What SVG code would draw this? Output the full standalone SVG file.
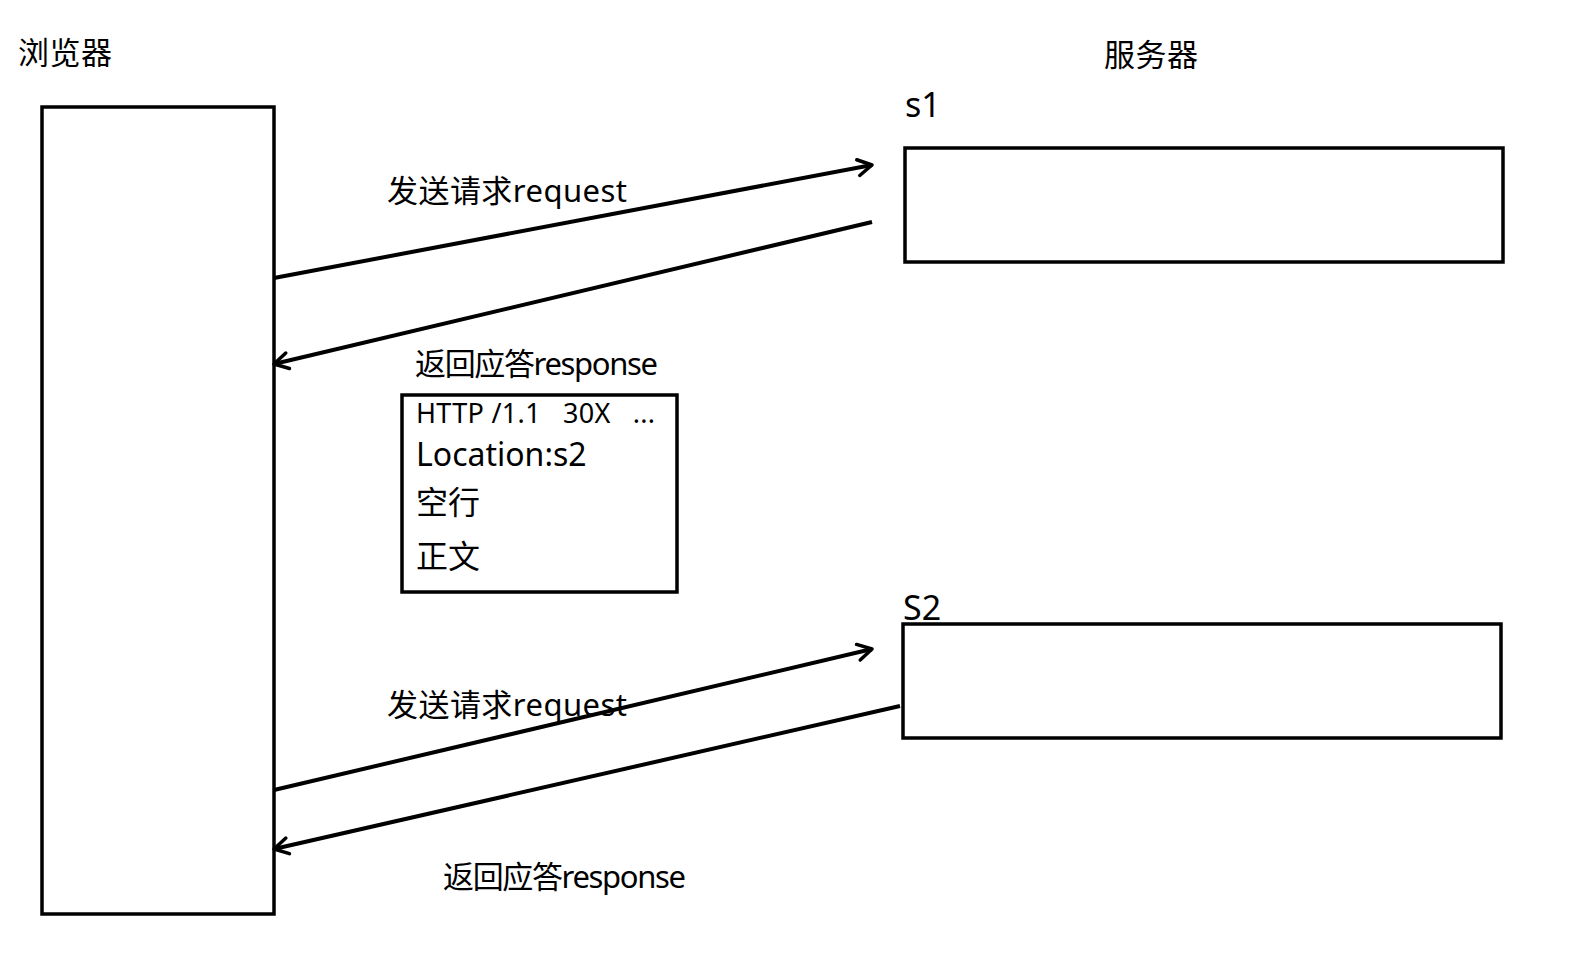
<svg xmlns="http://www.w3.org/2000/svg" width="1577" height="958" viewBox="0 0 1577 958">
<style>
.box{fill:#fff;stroke:#000;stroke-width:3.5}
.ln{fill:none;stroke:#000;stroke-width:4}
.t{font-family:"Noto Sans","Noto Sans CJK SC",sans-serif;fill:#000}
</style>
<defs>
<marker id="ah" markerUnits="userSpaceOnUse" markerWidth="24" markerHeight="24" refX="18" refY="12" orient="auto" viewBox="0 0 24 24">
<path d="M4,4 L18,12 L4,20" fill="none" stroke="#000" stroke-width="3.5" stroke-linecap="round" stroke-linejoin="round"/>
</marker>
</defs>
<rect width="1577" height="958" fill="#fff"/>
<g id="browser">
<rect class="box" x="42" y="107" width="232" height="807"/>
<text class="t" x="18" y="64" font-size="31" textLength="94" lengthAdjust="spacing">浏览器</text>
</g>
<text id="server-label" class="t" x="1104" y="66" font-size="31" textLength="94" lengthAdjust="spacing">服务器</text>
<g id="s1">
<rect class="box" x="905" y="148" width="598" height="114"/>
<text class="t" x="905" y="117" font-size="34">s1</text>
</g>
<g id="s2">
<rect class="box" x="903" y="624" width="598" height="114"/>
<text class="t" x="903" y="620" font-size="34">S2</text>
</g>
<g id="response-box">
<rect class="box" x="402" y="395" width="275" height="197"/>
<text class="t" x="416" y="423" font-size="27" xml:space="preserve" textLength="239" lengthAdjust="spacing">HTTP /1.1   30X   ...</text>
<text class="t" x="416" y="466" font-size="32">Location:s2</text>
<text class="t" x="416" y="514" font-size="32">空行</text>
<text class="t" x="416" y="568" font-size="32">正文</text>
</g>
<g id="connectors">
<line class="ln" x1="274" y1="278" x2="872" y2="165" marker-end="url(#ah)"/>
<line class="ln" x1="872" y1="222" x2="274" y2="364" marker-end="url(#ah)"/>
<line class="ln" x1="274" y1="790" x2="872" y2="649" marker-end="url(#ah)"/>
<line class="ln" x1="900" y1="706" x2="274" y2="849" marker-end="url(#ah)"/>
</g>
<g id="labels">
<text class="t" x="387" y="202" font-size="31" textLength="240" lengthAdjust="spacing">发送请求request</text>
<text class="t" x="415" y="375" font-size="31" textLength="243" lengthAdjust="spacing">返回应答response</text>
<text class="t" x="387" y="716" font-size="31" textLength="240" lengthAdjust="spacing">发送请求request</text>
<text class="t" x="443" y="888" font-size="31" textLength="243" lengthAdjust="spacing">返回应答response</text>
</g>
</svg>
